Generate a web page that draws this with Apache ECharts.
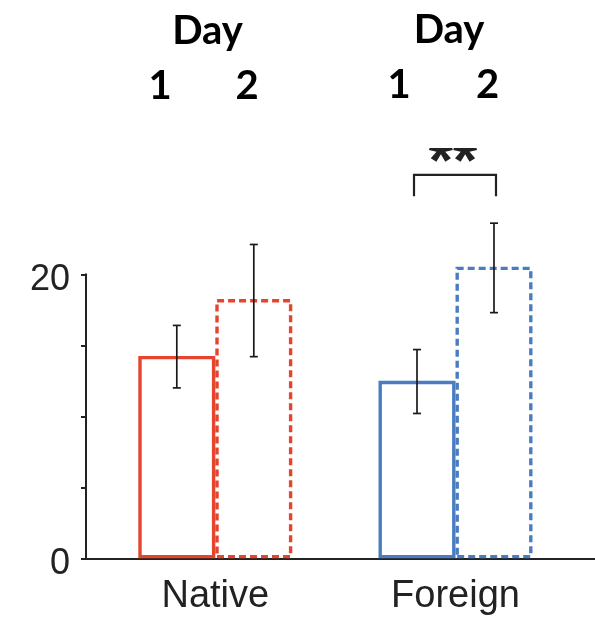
<!DOCTYPE html>
<html>
<head>
<meta charset="utf-8">
<script src="https://cdn.jsdelivr.net/npm/echarts@6/dist/echarts.min.js"></script>
<style>
html,body{margin:0;padding:0;background:#fff;}
#c{width:595px;height:617px;}
</style>
</head>
<body>
<div id="c"></div>
<script>
// ---- data ----
const categories = ['Native', 'Foreign'];
const day1Mean = [14.25, 12.5];
const day2Mean = [18.26, 20.54];
const day1Low = [12.0, 10.2];
const day1High = [16.4, 14.7];
const day2Low = [14.2, 17.3];
const day2High = [22.1, 23.6];
const yLabeledTicks = [0, 20];
const bracketLow = [25.5];   // bracket leg bottom (value)
const bracketHigh = [27.0];  // bracket top (value)
const bracketCat = [1];
const sigText = '**';
const dayWord = 'Day';
const dayNumbers = ['1', '2'];

// ---- styles ----
const groupColors = ['#E5442E', '#4A7CC0'];
const BAR_W = 77;
const AXIS_COLOR = '#222';

const chart = echarts.init(document.getElementById('c'), null, {renderer: 'canvas'});

function barData(vals, dashed) {
  return vals.map((v, i) => ({
    value: v,
    itemStyle: {
      color: 'rgba(0,0,0,0)',
      borderColor: groupColors[i],
      borderWidth: 3.4,
      borderType: dashed ? [7, 4] : 'solid'
    }
  }));
}

function errRenderer(sign) {
  return function (params, api) {
    const x = api.value(0);
    const lo = api.coord([x, api.value(1)]);
    const hi = api.coord([x, api.value(2)]);
    const cx = lo[0] + sign * BAR_W / 2;
    const cap = 4;
    const st = {stroke: '#1a1a1a', lineWidth: 1.7};
    return {
      type: 'group',
      children: [
        {type: 'line', shape: {x1: cx, y1: lo[1], x2: cx, y2: hi[1]}, style: st},
        {type: 'line', shape: {x1: cx - cap, y1: lo[1], x2: cx + cap, y2: lo[1]}, style: st},
        {type: 'line', shape: {x1: cx - cap, y1: hi[1], x2: cx + cap, y2: hi[1]}, style: st}
      ]
    };
  };
}

function bracketRenderer(params, api) {
  const x = api.value(0);
  const lo = api.coord([x, api.value(1)]);
  const hi = api.coord([x, api.value(2)]);
  const xl = lo[0] - BAR_W / 2 - 3;
  const xr = lo[0] + BAR_W / 2 + 2;
  return {
    type: 'polyline',
    shape: {points: [[xl, lo[1]], [xl, hi[1]], [xr, hi[1]], [xr, lo[1]]]},
    style: {stroke: '#222', lineWidth: 2.2, fill: null}
  };
}

const headerFont = 'bold 40px Lato';
function hdr(text, x, y) {
  return {type: 'text', x: x, y: y, z: 100,
    style: {text: text, font: headerFont, fill: '#000', align: 'center', verticalAlign: 'middle',
            textAlign: 'center', textVerticalAlign: 'middle'}};
}

const option = {
  backgroundColor: '#fff',
  animation: false,
  grid: [
    {left: 95.2, right: 19.4, top: 274.3, bottom: 58.7},
    {left: 86, right: 0, top: 274.3, bottom: 58.7}
  ],
  xAxis: [
    {
      type: 'category', gridIndex: 0, data: categories,
      axisLine: {show: false}, axisTick: {show: false},
      axisLabel: {fontFamily: 'Liberation Sans', fontSize: 38, color: '#222', margin: 19}
    },
    {
      type: 'value', gridIndex: 1, min: 0, max: 1,
      axisLine: {show: true, onZero: false, lineStyle: {color: AXIS_COLOR, width: 2}},
      axisTick: {show: false}, axisLabel: {show: false}, splitLine: {show: false}
    }
  ],
  yAxis: [
    {
      type: 'value', gridIndex: 0, min: 0, max: 20, interval: 5, position: 'left', offset: 9.2,
      axisLine: {show: true, lineStyle: {color: AXIS_COLOR, width: 2}},
      axisTick: {show: true, inside: false, length: 5, lineStyle: {color: AXIS_COLOR, width: 2}},
      splitLine: {show: false},
      axisLabel: {
        margin: 16,
        formatter: v => (yLabeledTicks.indexOf(v) >= 0 ? '{t|' + v + '}' : ''),
        rich: {
          t: {fontFamily: 'Liberation Sans', fontSize: 36, color: '#222', padding: [12, 0, 0, 0]}
        }
      }
    },
    {
      type: 'value', gridIndex: 1, min: 0, max: 1, show: false
    }
  ],
  series: [
    {
      type: 'bar', name: 'Day 1', xAxisIndex: 0, yAxisIndex: 0, clip: false,
      barWidth: BAR_W, barGap: '0%', data: barData(day1Mean, false), z: 3
    },
    {
      type: 'bar', name: 'Day 2', xAxisIndex: 0, yAxisIndex: 0, clip: false,
      barWidth: BAR_W, barGap: '0%', data: barData(day2Mean, true), z: 4
    },
    {
      type: 'custom', xAxisIndex: 0, yAxisIndex: 0, z: 5, clip: false,
      renderItem: errRenderer(-1), encode: {x: 0, y: [1, 2]},
      data: categories.map((c, i) => [i, day1Low[i], day1High[i]])
    },
    {
      type: 'custom', xAxisIndex: 0, yAxisIndex: 0, z: 5, clip: false,
      renderItem: errRenderer(1), encode: {x: 0, y: [1, 2]},
      data: categories.map((c, i) => [i, day2Low[i], day2High[i]])
    },
    {
      type: 'custom', xAxisIndex: 0, yAxisIndex: 0, z: 5, clip: false,
      renderItem: bracketRenderer, encode: {x: 0, y: [1, 2]},
      data: bracketCat.map((c, i) => [c, bracketLow[i], bracketHigh[i]])
    }
  ],
  graphic: [
    {type: 'text', x: 453, y: 164, z: 50,
     style: {text: sigText, font: 'bold 62px Liberation Sans', fill: '#222',
             align: 'center', verticalAlign: 'middle', textAlign: 'center', textVerticalAlign: 'middle'}},
    {type: 'rect', z: 60, shape: {x: 415, y: 115, width: 80, height: 33}, style: {fill: '#fff'}},
    hdr(dayWord, 207.5, 31),
    hdr(dayNumbers[0], 160, 86),
    hdr(dayNumbers[1], 247, 86),
    hdr(dayWord, 449, 30),
    hdr(dayNumbers[0], 399, 85),
    hdr(dayNumbers[1], 487.5, 85)
  ]
};
chart.setOption(option);
</script>
</body>
</html>
